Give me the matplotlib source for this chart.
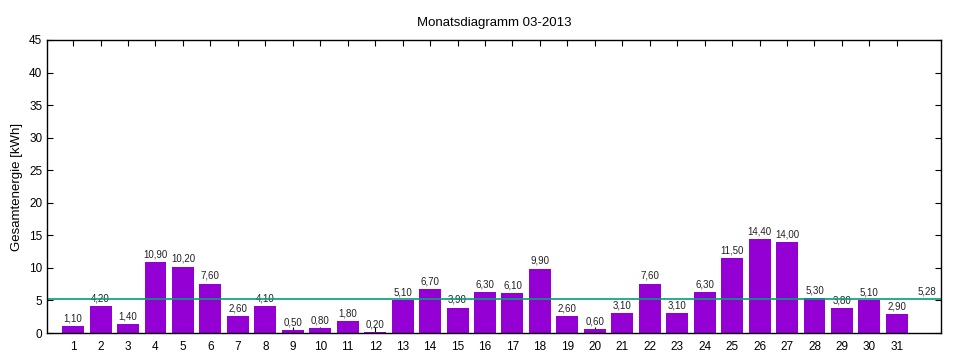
import matplotlib
matplotlib.use("Agg")
import matplotlib.pyplot as plt

days = list(range(1, 32))
energy = [1.1, 4.2, 1.4, 10.9, 10.2, 7.6, 2.6, 4.1, 0.5, 0.8, 1.8, 0.2, 5.1, 6.7, 3.9,
          6.3, 6.1, 9.9, 2.6, 0.6, 3.1, 7.6, 3.1, 6.3, 11.5, 14.4, 14.0, 5.3, 3.8, 5.1, 2.9]
average = 5.28

plt.rcParams["font.family"] = ["Liberation Sans", "DejaVu Sans"]

fig = plt.figure(figsize=(9.6, 3.6), dpi=100)
ax = fig.add_axes([0.049, 0.075, 0.931, 0.814])
ax.set_axisbelow(True)

ax.bar(days, energy, width=0.8, color="#9400D3", zorder=2)
for d, v in zip(days, energy):
    ax.text(d, v + 0.4, f"{v:.2f}".replace(".", ","), ha="center", va="bottom",
            fontsize=7, color="#222222")

ax.axhline(average, color="#00A07A", linewidth=1.2, zorder=3)
ax.text(32.45, average + 0.4, f"{average:.2f}".replace(".", ","), ha="right",
        va="bottom", fontsize=7, color="#222222")

ax.set_xlim(0.05, 32.6)
ax.set_ylim(0, 45)
ax.set_xticks(days)
ax.set_yticks(range(0, 46, 5))
ax.tick_params(direction="in", top=True, right=True, labelsize=8.5, length=4, width=0.8)
ax.tick_params(axis="x", pad=6)
for s in ax.spines.values():
    s.set_linewidth(1)
    s.set_zorder(4)

ax.set_ylabel("Gesamtenergie [kWh]", fontsize=9.5)
ax.set_title("Monatsdiagramm 03-2013", fontsize=9.5, pad=10)

fig.savefig("out.png", dpi=100)
